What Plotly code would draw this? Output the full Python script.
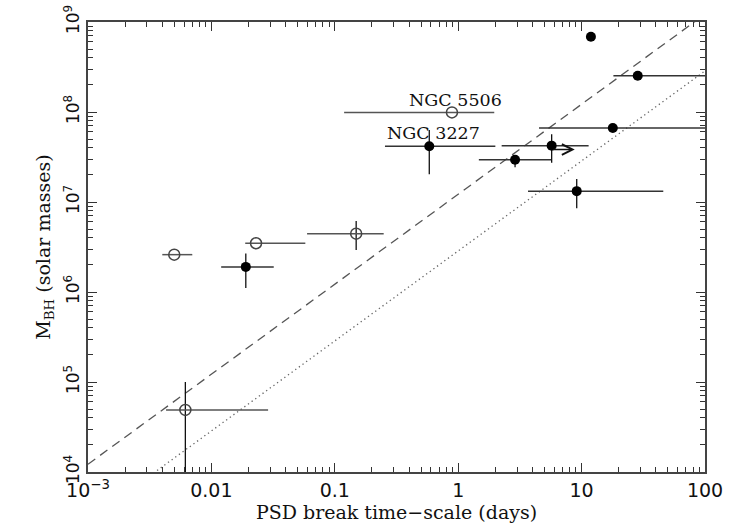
import math
import plotly.graph_objects as go

# ---- data ----
# open circles
T_open = [0.00615, 0.0050, 0.023, 0.149, 0.89]
M_open = [4.9e4, 2.6e6, 3.48e6, 4.45e6, 9.9e7]
T_open_lo = [0.00429, 0.0040, 0.0188, 0.0596, 0.119]
T_open_hi = [0.0288, 0.0070, 0.0577, 0.249, 1.96]
M_open_lo = [3.0e3, 2.6e6, 3.48e6, 2.93e6, 9.9e7]
M_open_hi = [1.0e5, 2.6e6, 3.48e6, 6.15e6, 9.9e7]

# filled circles
T_fill = [0.019, 0.583, 2.89, 5.72, 9.13, 17.9, 28.5, 11.9]
M_fill = [1.9e6, 4.16e7, 2.95e7, 4.23e7, 1.32e7, 6.64e7, 2.53e8, 6.87e8]
T_fill_lo = [0.012, 0.255, 1.47, 2.25, 3.68, 4.52, 18.1, 11.9]
T_fill_hi = [0.032, 2.0, 5.68, 11.4, 45.9, 300, 300, 11.9]
M_fill_lo = [1.11e6, 2.03e7, 2.43e7, 2.73e7, 8.5e6, 6.64e7, 2.53e8, 6.87e8]
M_fill_hi = [2.67e6, 6.3e7, 3.3e7, 5.65e7, 1.8e7, 6.64e7, 2.53e8, 6.87e8]

# relation lines (end points)
line_T = [1e-3, 100]
dashed_M = [1.22e4, 1.22e9]
dotted_M = [2.86e3, 2.86e8]

# lower-limit arrow (start, end in T) at mass
arrow_T = [5.72, 8.8]
arrow_M = 3.83e7

# labels
labels = ["NGC 5506", "NGC 3227"]
label_T = [0.385, 0.255]
label_M = [1.36e8, 5.9e7]

xtick_vals = [1e-3, 1e-2, 1e-1, 1, 10, 100]
xtick_text = ["10<sup>\u22123</sup>", "0.01", "0.1", "1", "10", "100"]
ytick_vals = [1e4, 1e5, 1e6, 1e7, 1e8, 1e9]
ytick_text = ["10<sup>4</sup>", "10<sup>5</sup>", "10<sup>6</sup>", "10<sup>7</sup>",
              "10<sup>8</sup>", "10<sup>9</sup>"]

xminor = [m * 10 ** e for e in range(-3, 2) for m in range(2, 10)]
yminor = [m * 10 ** e for e in range(4, 9) for m in range(2, 10)]

fig = go.Figure()

fig.add_trace(go.Scatter(x=line_T, y=dashed_M, mode="lines",
                         line=dict(color="#555555", width=1.3, dash="9px,6px"),
                         hoverinfo="skip"))
fig.add_trace(go.Scatter(x=line_T, y=dotted_M, mode="lines",
                         line=dict(color="#666666", width=1.3, dash="1.3px,3.2px"),
                         hoverinfo="skip"))


def errs(v, lo, hi):
    return [h - x for x, h in zip(v, hi)], [x - l for x, l in zip(v, lo)]


ex_p, ex_m = errs(T_open, T_open_lo, T_open_hi)
ey_p, ey_m = errs(M_open, M_open_lo, M_open_hi)
fig.add_trace(go.Scatter(
    x=T_open, y=M_open, mode="markers",
    marker=dict(symbol="circle-open", size=11, color="#444444", line=dict(width=1.5)),
    error_x=dict(type="data", symmetric=False, array=ex_p, arrayminus=ex_m,
                 color="#555555", thickness=1.5, width=0),
    error_y=dict(type="data", symmetric=False, array=ey_p, arrayminus=ey_m,
                 color="#111111", thickness=1.3, width=0),
))

ex_p, ex_m = errs(T_fill, T_fill_lo, T_fill_hi)
ey_p, ey_m = errs(M_fill, M_fill_lo, M_fill_hi)
fig.add_trace(go.Scatter(
    x=T_fill, y=M_fill, mode="markers",
    marker=dict(symbol="circle", size=10, color="#000000"),
    error_x=dict(type="data", symmetric=False, array=ex_p, arrayminus=ex_m,
                 color="#333333", thickness=1.5, width=0),
    error_y=dict(type="data", symmetric=False, array=ey_p, arrayminus=ey_m,
                 color="#111111", thickness=1.3, width=0),
))

fig.add_annotation(x=math.log10(arrow_T[1]), y=math.log10(arrow_M),
                   ax=math.log10(arrow_T[0]), ay=math.log10(arrow_M),
                   xref="x", yref="y", axref="x", ayref="y",
                   showarrow=True, arrowhead=5, arrowsize=1.6, arrowwidth=1.3,
                   arrowcolor="#111111", text="")

for t, x, y in zip(labels, label_T, label_M):
    fig.add_annotation(x=math.log10(x), y=math.log10(y), xref="x", yref="y",
                       text=t, showarrow=False, xanchor="left", yanchor="middle",
                       font=dict(family="DejaVu Serif", size=17.5, color="#111111"))

axis_common = dict(
    showgrid=False, zeroline=False, showline=True, linecolor="#444444", linewidth=1.5,
    mirror="allticks", ticks="inside", ticklen=9, tickwidth=1.3, tickcolor="#333333",
    ticklabeloverflow="allow", automargin=False,
)

fig.update_xaxes(type="log", range=[-3, 2], tickmode="array",
                 tickvals=xtick_vals, ticktext=xtick_text,
                 tickfont=dict(family="DejaVu Sans", size=19, color="#111111"),
                 minor=dict(tickmode="array", tickvals=xminor, ticks="inside",
                            ticklen=5, tickwidth=1.1, tickcolor="#333333", showgrid=False),
                 title=dict(text="PSD break time\u2212scale (days)", standoff=3,
                            font=dict(family="DejaVu Serif", size=19, color="#111111")),
                 **axis_common)
fig.update_yaxes(type="log", range=[4, 9], tickmode="array",
                 tickvals=ytick_vals, ticktext=ytick_text, tickangle=-90,
                 tickfont=dict(family="DejaVu Sans", size=17, color="#111111"),
                 minor=dict(tickmode="array", tickvals=yminor, ticks="inside",
                            ticklen=5, tickwidth=1.1, tickcolor="#333333", showgrid=False),
                 title=dict(text="M<sub>BH</sub> (solar masses)", standoff=6,
                            font=dict(family="DejaVu Serif", size=19, color="#111111")),
                 **axis_common)

fig.update_layout(
    width=743, height=525, showlegend=False,
    margin=dict(l=88, r=38, t=22, b=53, autoexpand=False),
    paper_bgcolor="white", plot_bgcolor="white",
)

# remove the default 8px page margin so the figure fills the window exactly
fig.write_html("out.html",
               config={"displayModeBar": False},
               post_script="document.body.style.margin='0px';"
                           "document.body.style.overflow='hidden';")
